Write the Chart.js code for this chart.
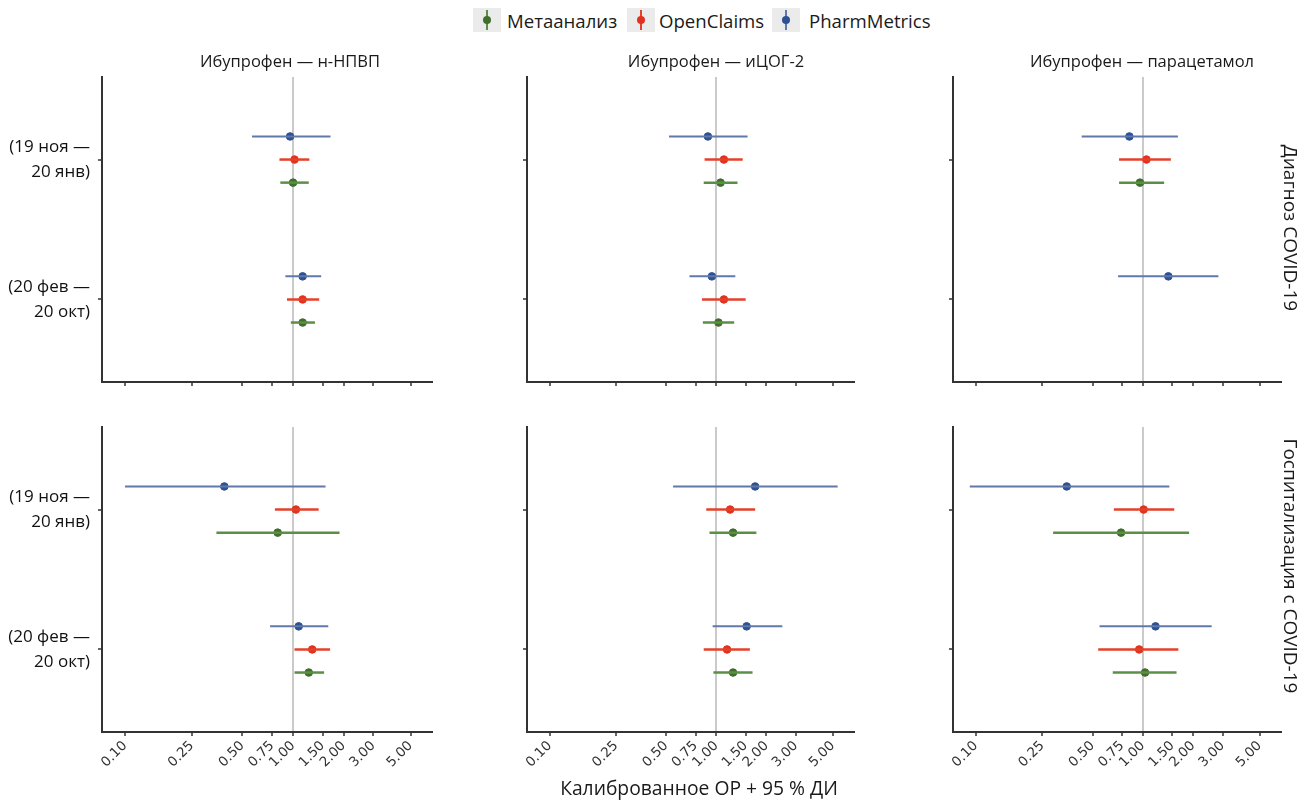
<!DOCTYPE html>
<html>
<head>
<meta charset="utf-8">
<script src="https://cdn.jsdelivr.net/npm/chart.js@4.4.1/dist/chart.umd.min.js"></script>
<style>
  body { margin: 0; background: #fff; width: 1314px; height: 800px; position: relative; overflow: hidden;
         font-family: "Open Sans", "Noto Sans", sans-serif; color: #1a1a1a; }
  canvas { position: absolute; }
  .t { position: absolute; white-space: nowrap; transform: translate(-50%, -50%); }
  .key { position: absolute; top: 8px; width: 28px; height: 24px; background: #ebebeb; }
  .key i { position: absolute; left: 13px; top: 2px; width: 2px; height: 20px; }
  .key b { position: absolute; left: 10px; top: 8px; width: 8px; height: 8px; border-radius: 50%; }
  .lab { position: absolute; top: 20px; transform: translateY(-50%); font-size: 18.6px; white-space: nowrap; }
</style>
</head>
<body>

<script>
// facet labels
const panelTitles = ['Ибупрофен — н-НПВП', 'Ибупрофен — иЦОГ-2', 'Ибупрофен — парацетамол'];
const outcomes = ['Диагноз COVID-19', 'Госпитализация с COVID-19'];
const periods = [['(19 ноя —', '20 янв)'], ['(20 фев —', '20 окт)']];
const seriesNames = ['Метаанализ', 'OpenClaims', 'PharmMetrics'];
const xTitle = 'Калиброванное ОР + 95 % ДИ';

const tickValues = [0.1, 0.25, 0.5, 0.75, 1, 1.5, 2, 3, 5];
const tickLabels = ['0.10', '0.25', '0.50', '0.75', '1.00', '1.50', '2.00', '3.00', '5.00'];

// panels: top row (diagnosis) left->right, then bottom row (hospitalisation); inner pair = periods
const metaEst = [[1.00, 1.14], [1.06, 1.03], [0.96, null], [0.81, 1.24], [1.26, 1.26], [0.74, 1.03]];
const metaLo  = [[0.84, 0.97], [0.84, 0.83], [0.72, null], [0.35, 1.02], [0.91, 0.96], [0.29, 0.66]];
const metaHi  = [[1.24, 1.35], [1.34, 1.28], [1.34, null], [1.89, 1.53], [1.74, 1.65], [1.89, 1.59]];

const ocEst = [[1.02, 1.14], [1.11, 1.11], [1.05, null], [1.04, 1.30], [1.21, 1.16], [1.01, 0.95]];
const ocLo  = [[0.83, 0.92], [0.85, 0.82], [0.72, null], [0.78, 1.02], [0.87, 0.84], [0.67, 0.54]];
const ocHi  = [[1.25, 1.43], [1.44, 1.50], [1.47, null], [1.42, 1.66], [1.71, 1.59], [1.54, 1.63]];

const pmEst = [[0.96, 1.14], [0.89, 0.94], [0.83, 1.42], [0.39, 1.08], [1.71, 1.52], [0.35, 1.19]];
const pmLo  = [[0.57, 0.90], [0.52, 0.69], [0.43, 0.71], [0.10, 0.73], [0.55, 0.95], [0.092, 0.55]];
const pmHi  = [[1.67, 1.47], [1.54, 1.30], [1.62, 2.83], [1.56, 1.62], [5.35, 2.49], [1.44, 2.58]];

const series = [
  { name: seriesNames[0], est: metaEst, lo: metaLo, hi: metaHi, dodge: 0.165, point: '#3f6f2b', line: '#5b8f45', width: 2.5 },
  { name: seriesNames[1], est: ocEst, lo: ocLo, hi: ocHi, dodge: 0, point: '#e2321f', line: '#e5402a', width: 2.5 },
  { name: seriesNames[2], est: pmEst, lo: pmLo, hi: pmHi, dodge: -0.165, point: '#2d5193', line: '#6079ab', width: 2 }
];

// layout of the facets
const plotLeft = [102, 527, 953];
const plotRight = [433, 855, 1282];
const rowTop = [77, 427];
const rowBottom = [382, 732];
const yAxisW = [102, 67, 63];
const titleX = [290, 716, 1142];

function addText(txt, x, y, css) {
  const d = document.createElement('div');
  d.className = 't';
  d.textContent = txt;
  d.style.left = x + 'px';
  d.style.top = y + 'px';
  Object.assign(d.style, css || {});
  document.body.appendChild(d);
}

function makePanel(p) {
  const row = Math.floor(p / 3), col = p % 3;
  const left = plotLeft[col] - yAxisW[col];
  const top = rowTop[row] - 7;
  const xH = row ? 50 : 30;
  const w = plotRight[col] + 7 - left;
  const h = rowBottom[row] + xH - top;

  const cv = document.createElement('canvas');
  cv.width = w; cv.height = h;
  cv.style.left = left + 'px'; cv.style.top = top + 'px';
  cv.style.width = w + 'px'; cv.style.height = h + 'px';
  document.body.appendChild(cv);

  const datasets = [];
  series.forEach(s => {
    for (let k = 0; k < 2; k++) {
      const est = s.est[p][k];
      if (est == null) continue;
      const y = k + 1 + s.dodge;
      datasets.push({
        data: [{ x: s.lo[p][k], y: y }, { x: s.hi[p][k], y: y }],
        showLine: true, borderColor: s.line, borderWidth: s.width, pointRadius: 0
      });
      datasets.push({
        data: [{ x: est, y: y }],
        backgroundColor: s.point, borderColor: s.point, pointRadius: 3.8, pointBorderWidth: 1
      });
    }
  });

  new Chart(cv, {
    type: 'scatter',
    data: { datasets: datasets },
    options: {
      responsive: false,
      animation: false,
      events: [],
      layout: { padding: { top: 7, right: 7, left: 0, bottom: 0 } },
      plugins: { legend: { display: false }, tooltip: { enabled: false } },
      scales: {
        x: {
          type: 'logarithmic',
          min: 0.073, max: 6.8,
          afterBuildTicks: s => { s.ticks = tickValues.map(v => ({ value: v })); },
          afterFit: s => { s.height = xH; s.paddingLeft = 0; s.paddingRight = 0; },
          grid: {
            color: c => (c.tick && c.tick.value === 1) ? '#cacaca' : 'rgba(0,0,0,0)',
            lineWidth: c => (c.tick && c.tick.value === 1) ? 2 : 0,
            tickColor: '#333', tickLength: 4, tickWidth: 1.5
          },
          border: { color: '#333', width: 2 },
          ticks: {
            display: row === 1, autoSkip: false, minRotation: 45, maxRotation: 45,
            font: { family: 'DejaVu Sans', size: 13.5 }, color: '#333', padding: 2,
            callback: v => tickLabels[tickValues.indexOf(v)]
          }
        },
        y: {
          type: 'linear', reverse: true, min: 0.41, max: 2.59,
          afterBuildTicks: s => { s.ticks = [{ value: 1 }, { value: 2 }]; },
          afterFit: s => { s.width = yAxisW[col]; s.paddingTop = 0; s.paddingBottom = 0; },
          grid: { color: 'rgba(0,0,0,0)', lineWidth: 0, tickColor: '#333', tickLength: 4, tickWidth: 1.5 },
          border: { color: '#333', width: 2 },
          ticks: {
            font: { family: 'Open Sans', size: 17, lineHeight: 1.5 }, color: '#111', padding: 8,
            callback: v => col === 0 ? periods[v - 1] : ''
          }
        }
      }
    }
  });
}

for (let p = 0; p < 6; p++) makePanel(p);

// facet titles and strips
panelTitles.forEach((t, i) => addText(t, titleX[i], 60, { fontSize: '16.5px' }));
addText(outcomes[0], 1291, 228, { fontSize: '19px', transform: 'translate(-50%,-50%) rotate(90deg)' });
addText(outcomes[1], 1291, 566, { fontSize: '19px', transform: 'translate(-50%,-50%) rotate(90deg)' });
addText(xTitle, 699, 787, { fontSize: '19.3px' });

// legend
const keyX = [473, 627, 772];
const labX = [507, 659, 809];
series.forEach((s, i) => {
  const k = document.createElement('div');
  k.className = 'key';
  k.style.left = keyX[i] + 'px';
  k.innerHTML = '<i style="background:' + s.line + '"></i><b style="background:' + s.point + '"></b>';
  document.body.appendChild(k);
  const l = document.createElement('div');
  l.className = 'lab';
  l.style.left = labX[i] + 'px';
  l.textContent = s.name;
  document.body.appendChild(l);
});
</script>
</body>
</html>
